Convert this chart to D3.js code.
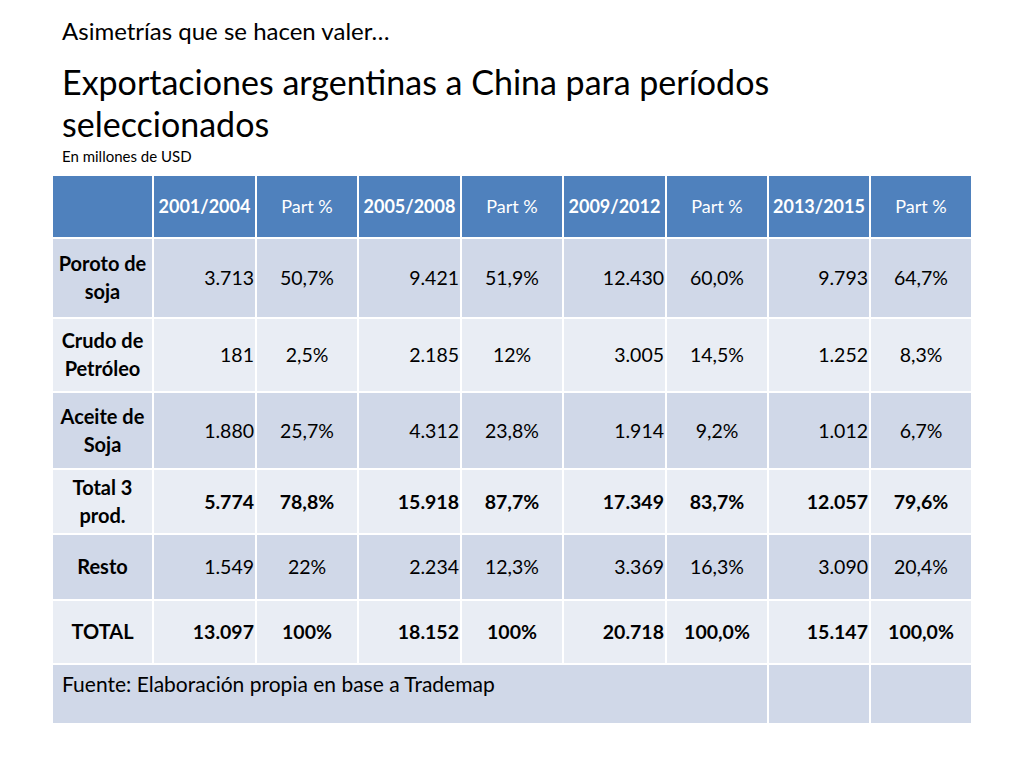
<!DOCTYPE html>
<html><head><meta charset="utf-8">
<script src="https://cdn.jsdelivr.net/npm/d3@7"></script>
<style>body{margin:0;background:#fff;font-family:Lato,"Open Sans",sans-serif}</style>
</head><body>
<script>
const periods = ["2001/2004", "2005/2008", "2009/2012", "2013/2015"];
const rowLabels = [["Poroto de", "soja"], ["Crudo de", "Petróleo"], ["Aceite de", "Soja"], ["Total 3", "prod."], ["Resto"], ["TOTAL"]];
const values = [
  ["3.713", "9.421", "12.430", "9.793"],
  ["181", "2.185", "3.005", "1.252"],
  ["1.880", "4.312", "1.914", "1.012"],
  ["5.774", "15.918", "17.349", "12.057"],
  ["1.549", "2.234", "3.369", "3.090"],
  ["13.097", "18.152", "20.718", "15.147"]
];
const parts = [
  ["50,7%", "51,9%", "60,0%", "64,7%"],
  ["2,5%", "12%", "14,5%", "8,3%"],
  ["25,7%", "23,8%", "9,2%", "6,7%"],
  ["78,8%", "87,7%", "83,7%", "79,6%"],
  ["22%", "12,3%", "16,3%", "20,4%"],
  ["100%", "100%", "100,0%", "100,0%"]
];
const boldRows = [3, 5];
const source = "Fuente: Elaboración propia en base a Trademap";

const svg = d3.select("body").append("svg").attr("width", 1024).attr("height", 768);

svg.append("text").attr("x", 62).attr("y", 40).attr("font-size", 24).text("Asimetrías que se hacen valer…");
svg.append("text").attr("x", 62).attr("y", 95).attr("font-size", 34).text("Exportaciones argentinas a China para períodos");
svg.append("text").attr("x", 62).attr("y", 137).attr("font-size", 34).text("seleccionados");
svg.append("text").attr("x", 62).attr("y", 162).attr("font-size", 15).text("En millones de USD");

// column edges and row edges
const colEdges = [52, 153, 256, 358, 461, 563, 666, 768, 870, 972];
const rowEdges = [175, 238, 318, 392, 469, 534, 600, 664, 724];
const dark = "#D0D8E8", light = "#E9EDF4";

const g = svg.append("g");
function cell(x0, x1, y0, y1, fill) {
  g.append("rect").attr("x", x0).attr("y", y0).attr("width", x1 - x0).attr("height", y1 - y0)
    .attr("fill", fill).attr("stroke", "#fff").attr("stroke-width", 2);
}

// header
for (let c = 0; c < 9; c++) cell(colEdges[c], colEdges[c + 1], rowEdges[0], rowEdges[1], "#4F81BD");
const headers = [""].concat(periods.flatMap(p => [p, "Part %"]));
headers.forEach((h, c) => {
  g.append("text").attr("x", (colEdges[c] + colEdges[c + 1]) / 2).attr("y", rowEdges[0] + 38)
    .attr("text-anchor", "middle").attr("fill", "#fff").attr("font-size", 18)
    .attr("font-weight", c % 2 === 1 ? "bold" : null).text(h);
});

// body rows
rowLabels.forEach((lab, r) => {
  const y0 = rowEdges[r + 1], y1 = rowEdges[r + 2], fill = r % 2 === 0 ? dark : light;
  const mid = (y0 + y1) / 2;
  const bold = boldRows.includes(r);
  for (let c = 0; c < 9; c++) cell(colEdges[c], colEdges[c + 1], y0, y1, fill);
  lab.forEach((l, i) => {
    g.append("text").attr("x", (colEdges[0] + colEdges[1]) / 2)
      .attr("y", mid + 7 + (i - (lab.length - 1) / 2) * 28)
      .attr("text-anchor", "middle").attr("font-weight", "bold").attr("font-size", 20).text(l);
  });
  periods.forEach((p, j) => {
    const cv = 1 + j * 2;
    g.append("text").attr("x", colEdges[cv + 1] - 2).attr("y", mid + 7)
      .attr("text-anchor", "end").attr("font-size", 19.5).attr("font-weight", bold ? "bold" : null)
      .text(values[r][j]);
    g.append("text").attr("x", (colEdges[cv + 1] + colEdges[cv + 2]) / 2).attr("y", mid + 7)
      .attr("text-anchor", "middle").attr("font-size", 19.5).attr("font-weight", bold ? "bold" : null)
      .text(parts[r][j]);
  });
});

// source row
cell(colEdges[0], colEdges[7], rowEdges[7], rowEdges[8], dark);
cell(colEdges[7], colEdges[8], rowEdges[7], rowEdges[8], dark);
cell(colEdges[8], colEdges[9], rowEdges[7], rowEdges[8], dark);
g.append("text").attr("x", 62).attr("y", rowEdges[7] + 28).attr("font-size", 21).text(source);
</script>
</body></html>
